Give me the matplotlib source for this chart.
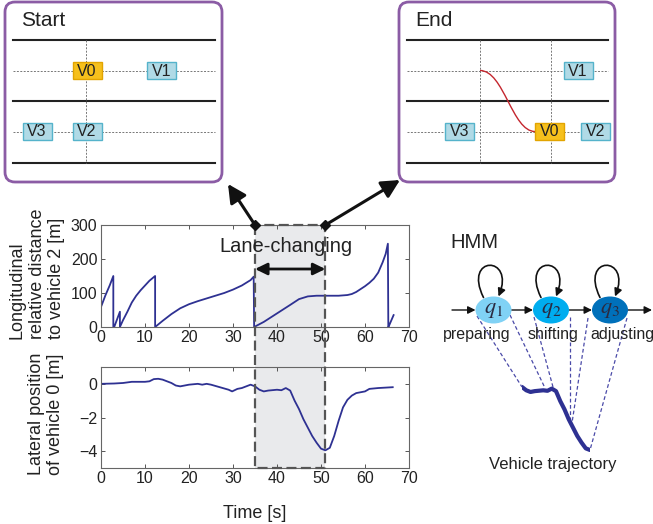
import matplotlib
matplotlib.use('Agg')
from matplotlib import pyplot as plt
from matplotlib.patches import FancyBboxPatch, Rectangle, Ellipse, FancyArrowPatch, PathPatch
from matplotlib.path import Path

plt.rcParams['font.family'] = ['Liberation Sans', 'DejaVu Sans']
plt.rcParams['mathtext.fontset'] = 'stix'

W, H = 653, 524

# longitudinal relative distance to vehicle 2 [m]
lon_t = [0, 1, 2, 2.8, 2.8, 3.0, 4.3, 4.3, 5, 6, 7, 8, 9, 10, 11, 12.3,
         12.3, 14, 16, 18, 20, 22, 25, 28, 30, 32, 34, 34.7,
         34.8, 37, 40, 43, 45, 47, 49, 51, 54, 56, 57, 58, 60, 61, 62, 63, 64, 64.7, 65.2,
         65.3, 65.5, 66.5]
lon_d = [59, 93, 123, 150, 0, 0, 45, 0, 20, 45, 72, 92, 108, 122, 136, 150,
         0, 18, 38, 55, 67, 76, 88, 100, 110, 122, 138, 148,
         0, 15, 40, 65, 82, 90, 92, 92, 92, 94, 97, 103, 120, 130, 142, 160, 190, 215, 245,
         0, 5, 35]

# lateral position of vehicle 0 [m]
lat_t = [0, 3, 5, 7, 10, 11, 12, 13, 14, 15, 16, 17, 18, 20, 22, 23, 24, 25, 27, 29, 29.8,
         31, 32, 33, 34, 35, 36, 37, 38, 40, 41, 42, 43, 44, 45, 46, 47, 48, 49, 50, 51,
         52, 53, 54, 55, 56, 57, 58, 59, 60, 61, 63, 66.3]
lat_y = [0, 0.02, 0.05, 0.12, 0.12, 0.15, 0.28, 0.3, 0.25, 0.15, 0.05, -0.1, -0.15, -0.05, 0.0,
         -0.05, 0.0, -0.05, -0.2, -0.35, -0.45, -0.3, -0.25, -0.15, -0.05, -0.15, -0.35, -0.45,
         -0.4, -0.35, -0.38, -0.25, -0.4, -1.0, -1.5, -2.1, -2.6, -3.1, -3.5, -3.85, -3.95,
         -3.8, -3.1, -2.2, -1.4, -0.95, -0.7, -0.55, -0.5, -0.45, -0.3, -0.25, -0.2]

lane_change = (35, 51)
x_ticks = [0, 10, 20, 30, 40, 50, 60, 70]
lon_ticks = [0, 100, 200, 300]
lat_ticks = [-4, -2, 0]

state_labels = ['$q_1$', '$q_2$', '$q_3$']
state_names = ['preparing', 'shifting', 'adjusting']
state_colors = ['#80d2f5', '#00adef', '#0070ba']

line_blue = '#2e3192'
purple = '#8b5ca5'


def px(x0, y0, x1, y1):
    return [x0 / W, 1 - y1 / H, (x1 - x0) / W, (y1 - y0) / H]


fig = plt.figure(figsize=(W / 100, H / 100), dpi=100)
bg = fig.add_axes([0, 0, 1, 1], zorder=-1)
ax1 = fig.add_axes(px(101, 225, 409, 327))
ax2 = fig.add_axes(px(101, 367, 409, 468))
ov = fig.add_axes([0, 0, 1, 1], zorder=5)
for a in (bg, ov):
    a.set_xlim(0, W)
    a.set_ylim(H, 0)
    a.axis('off')
    a.patch.set_alpha(0)

for ax in (ax1, ax2):
    ax.set_facecolor('none')
    ax.set_xlim(0, 70)
    ax.set_xticks(x_ticks)
    ax.tick_params(direction='in', top=True, right=True, length=3, width=0.7,
                   labelsize=11.5, colors='#555', labelcolor='#222', pad=2.5)
    for s in ax.spines.values():
        s.set_color('#666')
        s.set_linewidth(0.8)

ax1.plot(lon_t, lon_d, color=line_blue, lw=1.3)
ax1.set_ylim(0, 300)
ax1.set_yticks(lon_ticks)

ax2.plot(lat_t, lat_y, color=line_blue, lw=1.3)
ax2.set_ylim(-5, 1)
ax2.set_yticks(lat_ticks)
ax2.set_xlabel('Time [s]', fontsize=13, color='#222', labelpad=13)

fig.text(37 / W, 1 - 339 / H, 'Longitudinal\nrelative distance\nto vehicle 2 [m]',
         rotation=90, ha='center', va='bottom', multialignment='left',
         fontsize=13, color='#222', linespacing=1.2)
fig.text(46 / W, 1 - 414 / H, 'Lateral position\nof vehicle 0 [m]',
         rotation=90, ha='center', va='center', multialignment='center',
         fontsize=13, color='#222', linespacing=1.2)


def to_ov(ax, x, y):
    d = ax.transData.transform((x, y))
    return ov.transData.inverted().transform(d)


# shaded lane-changing window spanning both plots
xa, ytop = to_ov(ax1, lane_change[0], 300)
xb, _ = to_ov(ax1, lane_change[1], 300)
_, ybot = to_ov(ax2, lane_change[0], -5)
bg.add_patch(Rectangle((xa, ytop), xb - xa, ybot - ytop, facecolor='#e9eaec', edgecolor='none'))
ov.plot([xa, xa, xb, xb, xa], [ytop, ybot, ybot, ytop, ytop], color='#555',
        lw=1.6, ls=(0, (4.5, 2)))
ov.plot([xa, xb], [ytop, ytop], 'D', color='#111', ms=5)

ya = 269
ov.add_patch(FancyArrowPatch((xa, ya), (xb, ya), arrowstyle='<|-|>,head_length=0.45,head_width=0.22',
                             mutation_scale=16, lw=2, color='#111', shrinkA=0, shrinkB=0))
ov.text((xa + xb) / 2 - 4, 247, 'Lane-changing', fontsize=14.5, color='#222', ha='center', va='center')

ov.add_patch(FancyArrowPatch((xa, ytop), (228, 184), arrowstyle='-|>,head_length=0.55,head_width=0.28',
                             mutation_scale=20, lw=2.2, color='#111', shrinkA=0, shrinkB=0))
ov.add_patch(FancyArrowPatch((xb, ytop), (400, 180), arrowstyle='-|>,head_length=0.55,head_width=0.28',
                             mutation_scale=20, lw=2.2, color='#111', shrinkA=0, shrinkB=0))


# Start / End schematics
def draw_panel(x0, x1, title, cars, vlines):
    ov.add_patch(FancyBboxPatch((x0, 2), x1 - x0, 180, boxstyle='round,pad=0,rounding_size=10',
                                facecolor='white', edgecolor=purple, lw=2))
    ov.text(x0 + 16, 21, title, fontsize=15, color='#222', va='center')
    lx0, lx1 = x0 + 8, x1 - 7
    for y in (39.5, 101, 162.5):
        ov.plot([lx0, lx1], [y, y], color='#222', lw=1.5)
    for y in (70.5, 131.5):
        ov.plot([lx0, lx1], [y, y], color='#777', lw=0.7, ls=(0, (2, 1.5)))
    for x in vlines:
        ov.plot([x, x], [39.5, 162.5], color='#777', lw=0.7, ls=(0, (2, 1.5)))
    for name, cx0, cy, ego in cars:
        fc, ec = ('#f6c01c', '#e2a400') if ego else ('#b0dae6', '#55b3cb')
        ov.add_patch(Rectangle((cx0, cy - 8.8), 29, 17.6, facecolor=fc, edgecolor=ec, lw=1, zorder=3))
        ov.text(cx0 + 14.5, cy + 0.5, name, fontsize=11.5, color='#222', ha='center', va='center', zorder=4)


draw_panel(5, 222, 'Start',
           [('V0', 72.5, 70.5, True), ('V1', 147, 70.5, False),
            ('V3', 22.5, 131.5, False), ('V2', 72.5, 131.5, False)], [86])
draw_panel(399, 615, 'End',
           [('V1', 563.5, 70.5, False), ('V3', 445, 131.5, False),
            ('V0', 535, 131.5, True), ('V2', 581, 131.5, False)], [480, 550.5])
ov.add_patch(PathPatch(Path([(480, 70.5), (504, 70.5), (512, 131.5), (535, 131.5)],
                            [Path.MOVETO, Path.CURVE4, Path.CURVE4, Path.CURVE4]),
                       facecolor='none', edgecolor='#c4262e', lw=1, zorder=2))

# HMM
ov.text(450, 242, 'HMM', fontsize=14.5, color='#222', va='center')
cy = 310
centers = [493.5, 551, 610]
rx = 18
for cx, lab, name, col in zip(centers, state_labels, state_names, state_colors):
    ov.add_patch(Ellipse((cx, cy), 2 * rx, 27, facecolor=col, edgecolor='none', zorder=3))
    ov.text(cx, cy, lab, fontsize=16, color='#2a2a40', ha='center', va='center', zorder=4)
    loop = Path([(cx - 10, 297.5), (cx - 31, 255), (cx + 22, 255), (cx + 5, 296.5)],
                [Path.MOVETO, Path.CURVE4, Path.CURVE4, Path.CURVE4])
    ov.add_patch(FancyArrowPatch(path=loop, arrowstyle='-|>,head_length=0.5,head_width=0.25',
                                 mutation_scale=9, lw=1.2, color='#111'))
name_x = [477, 553, 622]
for x, name in zip(name_x, state_names):
    ov.text(x, 335, name, fontsize=11.5, color='#222', ha='center', va='center', zorder=6)
arrow_x = [452] + [c + rx for c in centers]
for i in range(4):
    xs = arrow_x[i]
    xe = centers[i] - rx if i < 3 else 652
    ov.add_patch(FancyArrowPatch((xs, cy), (xe, cy), arrowstyle='-|>,head_length=0.5,head_width=0.25',
                                 mutation_scale=9, lw=1, color='#111', shrinkA=0, shrinkB=0))

links = [((477, 316), (522, 387)), ((510, 315), (545, 388)), ((534, 317), (553, 387)),
         ((570, 317), (570, 420)), ((588, 318), (572, 423)), ((627, 318), (590, 450))]
for (x0, y0), (x1, y1) in links:
    ov.plot([x0, x1], [y0, y1], color='#4a4aa8', lw=0.9, ls=(0, (3, 2)), zorder=2)

tr = fig.add_axes(px(522, 384, 590, 452), zorder=6)
tr.axis('off')
tr.patch.set_alpha(0)
seg = [(t, y) for t, y in zip(lat_t, lat_y) if lane_change[0] <= t <= lane_change[1]]
tr.plot([s[0] for s in seg], [s[1] for s in seg], color=line_blue, lw=3, solid_capstyle='round')
tr.set_xlim(lane_change[0], lane_change[1])
tr.set_ylim(-4.07, 0.03)
ov.text(553, 465, 'Vehicle trajectory', fontsize=12, color='#222', ha='center', va='center')

fig.savefig('out.png', dpi=100, facecolor='white')
